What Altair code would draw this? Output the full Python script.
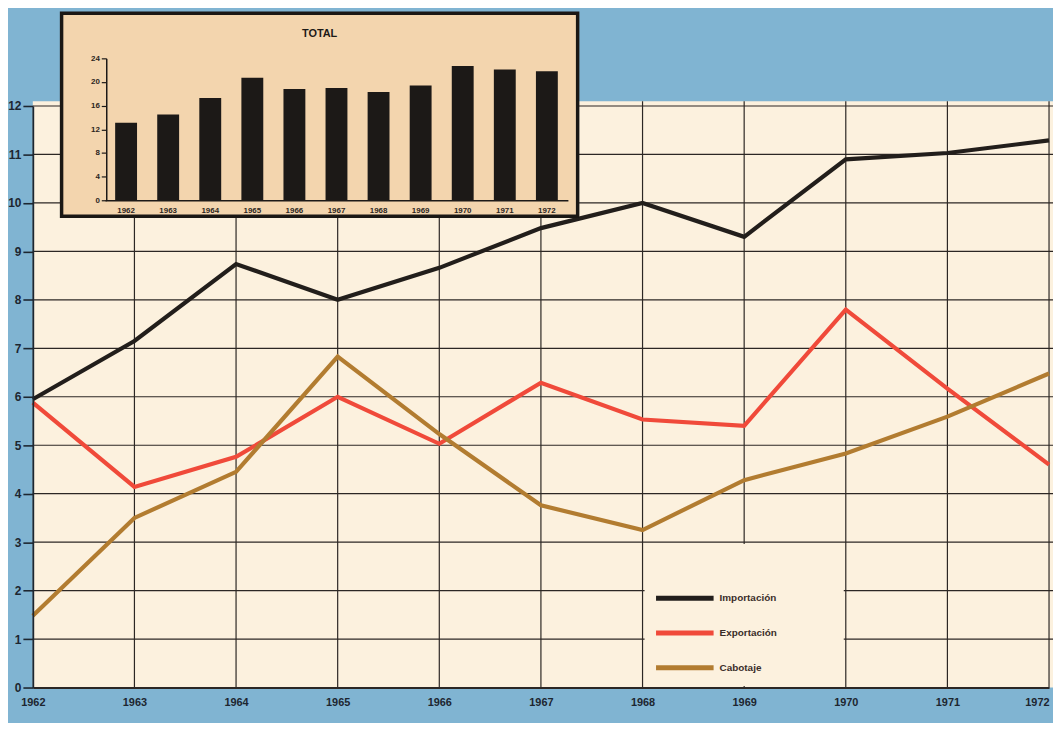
import altair as alt
import pandas as pd

# ---- data ----
years = [1962, 1963, 1964, 1965, 1966, 1967, 1968, 1969, 1970, 1971, 1972]
importacion = [5.95, 7.15, 8.74, 8.0, 8.66, 9.48, 10.0, 9.3, 10.9, 11.03, 11.29]
exportacion = [5.88, 4.14, 4.76, 6.0, 5.03, 6.29, 5.53, 5.4, 7.8, 6.17, 4.6]
cabotaje = [1.48, 3.5, 4.45, 6.83, 5.23, 3.76, 3.25, 4.28, 4.83, 5.59, 6.48]
total = [13.1, 14.5, 17.3, 20.7, 18.8, 19.0, 18.3, 19.4, 22.7, 22.1, 21.8]

series_names = ["Importación", "Exportación", "Cabotaje"]
series_colors = ["#221e1b", "#f04a3a", "#b27c30"]
y_ticks = list(range(0, 13))
inset_ticks = [0, 4, 8, 12, 16, 20, 24]
inset_title = "TOTAL"

# ---- styling ----
W, H = 1024, 586          # main plot area (1962..1972, 0..12)
PAD = {"left": 25, "top": 96, "right": 4, "bottom": 33}
BLUE = "#80b4d2"
CREAM = "#fcf1de"
TAN = "#f3d5ae"
INK = "#1d2630"
GRID = "#2c2724"
FONT = "Liberation Sans"

lines_df = pd.DataFrame({
    "year": years * 3,
    "value": importacion + exportacion + cabotaje,
    "serie": [n for n in series_names for _ in years],
})
grid_h_df = pd.DataFrame({"v": y_ticks[1:]})
grid_v_df = pd.DataFrame({"year": years[1:]})
total_df = pd.DataFrame({"year": [str(y) for y in years], "total": total})
one = pd.DataFrame({"a": [0]})

xs = alt.Scale(domain=[1962, 1972], nice=False, zero=False)
ys = alt.Scale(domain=[0, 12], nice=False, zero=False)

x_axis = alt.Axis(values=years, format="d", ticks=False, labelPadding=9,
                  domainColor=GRID, domainWidth=2.2, labelFontSize=11,
                  labelFontWeight="bold", labelColor=INK, labelFont=FONT,
                  labelAlign=alt.expr(f"datum.value == {years[-1]} ? 'right' : 'center'"),
                  grid=False, zindex=1, labelFlush=False, title=None)
y_axis = alt.Axis(values=y_ticks, tickSize=10, tickWidth=1.6, tickColor=INK,
                  domainColor=INK, domainWidth=1.8, labelPadding=2,
                  labelFontSize=12, labelFontWeight="bold", labelColor=INK,
                  labelFont=FONT, grid=False, zindex=1, labelFlush=False, title=None)

cream = alt.Chart(one).mark_rect(color=CREAM).encode(
    x=alt.X(datum=1962, type="quantitative", scale=xs, axis=x_axis),
    x2=alt.value(W + 4),
    y=alt.Y(datum=0, type="quantitative", scale=ys, axis=y_axis),
    y2=alt.Y2(datum=12.1),
)

grid_h = alt.Chart(grid_h_df).mark_rule(color=GRID, strokeWidth=1.2).encode(
    y=alt.Y("v:Q", scale=ys, axis=y_axis),
    x=alt.X(datum=1962, type="quantitative", scale=xs, axis=x_axis),
    x2=alt.value(W + 4),
)

grid_v = alt.Chart(grid_v_df).mark_rule(color=GRID, strokeWidth=1.2).encode(
    x=alt.X("year:Q", scale=xs, axis=x_axis),
    y=alt.Y(datum=0, type="quantitative", scale=ys, axis=y_axis),
    y2=alt.Y2(datum=12.1),
)

legend_box = alt.Chart(one).mark_rect(color=CREAM).encode(
    x=alt.X(datum=1968.02, type="quantitative", scale=xs, axis=x_axis),
    x2=alt.X2(datum=1969.98),
    y=alt.Y(datum=0.03, type="quantitative", scale=ys, axis=y_axis),
    y2=alt.Y2(datum=2.96),
)

lines = alt.Chart(lines_df).mark_line(strokeWidth=4.2).encode(
    x=alt.X("year:Q", scale=xs, axis=x_axis),
    y=alt.Y("value:Q", scale=ys, axis=y_axis),
    color=alt.Color("serie:N",
                    scale=alt.Scale(domain=series_names, range=series_colors),
                    legend=alt.Legend(title=None, orient="none", legendX=640, legendY=479,
                                      symbolType="M-2,0H2", symbolStrokeWidth=5,
                                      symbolSize=841, labelFontSize=10,
                                      labelFontWeight="bold", labelColor="#3a2d29",
                                      labelFont=FONT, rowPadding=8, labelOffset=18)),
    order=alt.Order("year:Q"),
)

main = alt.layer(cream, grid_h, grid_v, legend_box, lines)

# ---- inset (drawn above the plot area, in the top padding) ----
INSET_BASE = 95           # pixel row of 0 in the inset
ixs = alt.Scale(range=[72.8, 539.2], paddingInner=0.48, paddingOuter=0.24)
iys = alt.Scale(domain=[0, 24], range=[INSET_BASE, -48], nice=False)

panel = alt.Chart(one).mark_rect(fill=TAN, stroke="#1a1714", strokeWidth=3.5).encode(
    x=alt.value(29), x2=alt.value(549), y=alt.value(-93.5), y2=alt.value(111),
)

title_txt = alt.Chart(one).mark_text(
    text=inset_title, fontWeight="bold", fontSize=11, font=FONT, color="#1d1a18"
).encode(x=alt.value(289), y=alt.value(-73))

bars = alt.Chart(total_df).mark_bar(color="#1c1917").encode(
    x=alt.X("year:O", scale=ixs, title=None,
            axis=alt.Axis(orient="bottom", offset=-(H - INSET_BASE), ticks=False,
                          labelAngle=0, labelPadding=6, labelFontSize=8,
                          labelFontWeight="bold", labelColor="#2c2622", labelFont=FONT,
                          domainColor="#1c1917", domainWidth=1.5, grid=False, zindex=1)),
    y=alt.Y("total:Q", scale=iys, title=None,
            axis=alt.Axis(orient="left", offset=-74, values=inset_ticks, tickSize=5,
                          tickWidth=1.2, tickColor="#1c1917", domainColor="#1c1917",
                          domainWidth=1.5, labelPadding=2, labelFontSize=8,
                          labelFontWeight="bold", labelColor="#2c2622", labelFont=FONT,
                          grid=False, zindex=1, labelFlush=False)),
)

inset = alt.layer(panel, bars, title_txt)

chart = alt.layer(main, inset).resolve_scale(
    x="independent", y="independent"
).properties(
    width=W, height=H, autosize=alt.AutoSizeParams(type="none"), padding=PAD,
).configure(background=BLUE).configure_view(stroke=None)

chart.save("out.html", embed_options={"renderer": "svg", "actions": False})
